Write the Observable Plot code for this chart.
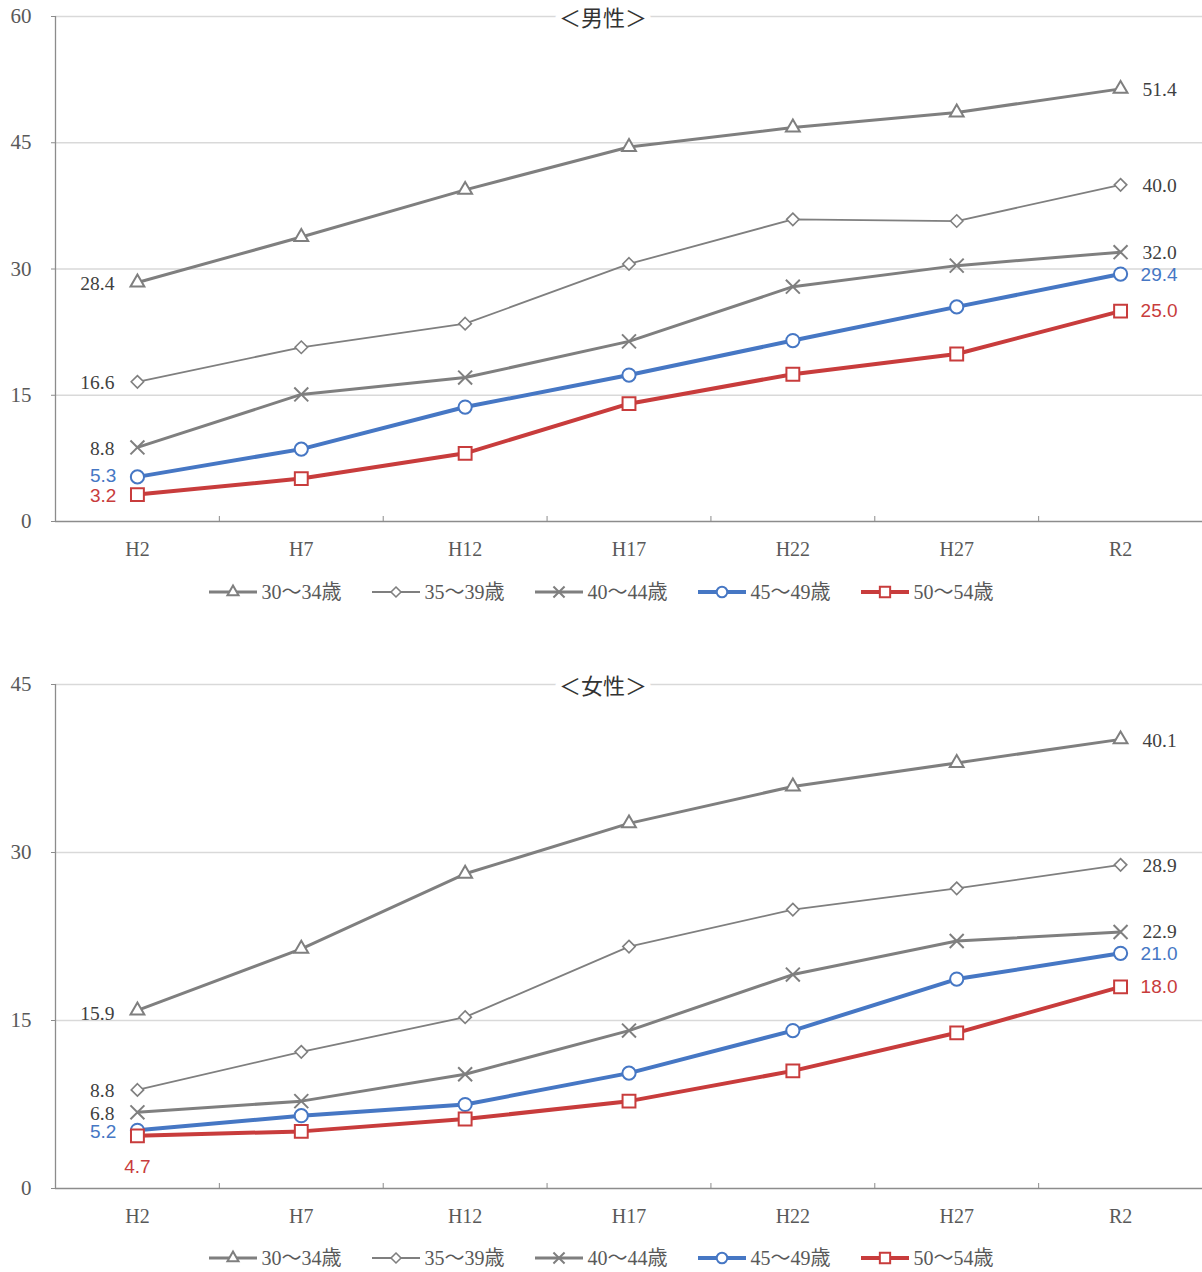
<!DOCTYPE html>
<html><head><meta charset="utf-8">
<script src="https://cdn.jsdelivr.net/npm/d3@7"></script>
<script src="https://cdn.jsdelivr.net/npm/@observablehq/plot@0.6"></script>
<style>
body{margin:0;background:#fff;width:1202px;overflow:hidden;}
.chart svg{display:block;}
.legend{display:flex;justify-content:center;gap:30px;font-family:"Liberation Serif","Noto Sans CJK JP",serif;font-size:20px;color:#595959;box-sizing:border-box;padding-left:0px;}
.item{display:flex;align-items:center;height:22px;}
.item span{margin-left:5px;line-height:22px;}
</style></head><body><div id="root"></div>
<script>
// ---- data ----
const years = ["H2","H7","H12","H17","H22","H27","R2"];
const ageGroups = ["30～34歳","35～39歳","40～44歳","45～49歳","50～54歳"];

const male30_34 = [28.4, 33.8, 39.4, 44.5, 46.8, 48.6, 51.4];
const male35_39 = [16.6, 20.7, 23.5, 30.6, 35.9, 35.7, 40.0];
const male40_44 = [8.8, 15.1, 17.1, 21.4, 27.9, 30.4, 32.0];
const male45_49 = [5.3, 8.6, 13.6, 17.4, 21.5, 25.5, 29.4];
const male50_54 = [3.2, 5.1, 8.1, 14.0, 17.5, 19.9, 25.0];

const female30_34 = [15.9, 21.4, 28.1, 32.6, 35.9, 38.0, 40.1];
const female35_39 = [8.8, 12.2, 15.3, 21.6, 24.9, 26.8, 28.9];
const female40_44 = [6.8, 7.8, 10.2, 14.1, 19.1, 22.1, 22.9];
const female45_49 = [5.2, 6.5, 7.5, 10.3, 14.1, 18.7, 21.0];
const female50_54 = [4.7, 5.1, 6.2, 7.8, 10.5, 13.9, 18.0];

const maleTicks = [0, 15, 30, 45, 60];
const femaleTicks = [0, 15, 30, 45];

// ---- styles ----
const GRAY = "#7f7f7f", BLUE = "#4677c4", RED = "#c83c3c";
const styles = [
  {color: GRAY, width: 3,   symbol: "triangle2", r: 6.6, mw: 2,   sans: false},
  {color: GRAY, width: 1.8, symbol: "diamond2",  r: 5.6, mw: 1.6, sans: false},
  {color: GRAY, width: 3,   symbol: "times",     r: 6.4, mw: 2,   sans: false},
  {color: BLUE, width: 4,   symbol: "circle",    r: 6.6, mw: 2,   sans: true},
  {color: RED,  width: 4,   symbol: "square2",   r: 8.2, mw: 2,   sans: true}
];
const SERIF = "'Liberation Serif', 'Noto Sans CJK JP', serif";
const SANS = "'Liberation Sans', Arial, sans-serif";
const AXIS = "#8c8c8c";

function makeChart({title, series, ticks, height, marginTop, marginBottom, leftOff, rightOff}) {
  const yMax = d3.max(ticks);
  const marks = [
    Plot.gridY(ticks.filter(t => t > 0), {stroke: "#d9d9d9", strokeOpacity: 1, strokeWidth: 1.3}),
    Plot.ruleY([0], {stroke: AXIS, strokeWidth: 1.3}),
    Plot.ruleX([-0.5], {stroke: AXIS, strokeWidth: 1.3}),
    Plot.axisY({ticks, tickSize: 4, tickPadding: 20, stroke: AXIS, fill: "#595959", fontSize: 21, fontFamily: SERIF}),
    Plot.axisX({ticks: d3.range(years.length), tickFormat: i => years[i], tickSize: 0, tickPadding: 20, fill: "#595959", fontSize: 20, fontFamily: SERIF}),
    Plot.axisX({ticks: d3.range(0.5, years.length - 1, 1), tickFormat: () => "", tickSize: -5, stroke: AXIS})
  ];
  series.forEach((vals, k) => {
    const s = styles[k];
    const data = vals.map((v, i) => ({i, v}));
    marks.push(Plot.line(data, {x: "i", y: "v", stroke: s.color, strokeWidth: s.width}));
  });
  series.forEach((vals, k) => {
    const s = styles[k];
    const data = vals.map((v, i) => ({i, v}));
    marks.push(Plot.dot(data, {x: "i", y: "v", symbol: s.symbol, r: s.r, stroke: s.color, fill: "white", strokeWidth: s.mw}));
  });
  series.forEach((vals, k) => {
    const s = styles[k];
    const last = vals.length - 1;
    const common = {
      fill: s.sans ? s.color : "#404040",
      fontFamily: s.sans ? SANS : SERIF,
      fontSize: s.sans ? 19 : 19.5
    };
    const lo = leftOff[k], ro = rightOff[k];
    marks.push(Plot.text([{i: 0, v: vals[0]}], {x: "i", y: "v", text: d => d.v.toFixed(1), textAnchor: lo.anchor, dx: lo.dx, dy: lo.dy, ...common}));
    marks.push(Plot.text([{i: last, v: vals[last]}], {x: "i", y: "v", text: d => d.v.toFixed(1), textAnchor: "start", dx: ro.dx, dy: ro.dy, ...common}));
  });
  marks.push(Plot.text([title], {frameAnchor: "top", dx: -26, dy: 2, fontSize: 22, fontFamily: "'Noto Sans CJK JP', sans-serif", fill: "#333", stroke: "white", strokeWidth: 12, paintOrder: "stroke", lineAnchor: "middle"}));

  return Plot.plot({
    width: 1202, height, marginLeft: 55, marginRight: 0, marginTop, marginBottom,
    x: {domain: [-0.5, years.length - 0.5], label: null},
    y: {domain: [0, yMax], label: null},
    style: {fontFamily: SERIF, background: "white", overflow: "visible"},
    marks
  });
}

function makeLegend() {
  const div = document.createElement("div");
  div.className = "legend";
  ageGroups.forEach((name, k) => {
    const s = styles[k];
    const item = document.createElement("div");
    item.className = "item";
    const svg = d3.create("svg").attr("width", 48).attr("height", 22);
    svg.append("line").attr("x1", 0).attr("x2", 48).attr("y1", 11).attr("y2", 11)
      .attr("stroke", s.color).attr("stroke-width", s.width);
    const symMap = {triangle2: d3.symbolTriangle2, diamond2: d3.symbolDiamond2, times: d3.symbolTimes, circle: d3.symbolCircle, square2: d3.symbolSquare2};
    const rr = s.r * 0.8;
    svg.append("path").attr("transform", "translate(24,11)")
      .attr("d", d3.symbol(symMap[s.symbol], rr * rr * Math.PI)())
      .attr("fill", "white").attr("stroke", s.color).attr("stroke-width", s.mw);
    item.appendChild(svg.node());
    const sp = document.createElement("span");
    sp.textContent = name;
    item.appendChild(sp);
    div.appendChild(item);
  });
  return div;
}

const root = document.getElementById("root");
const c1 = document.createElement("div"); c1.className = "chart";
c1.appendChild(makeChart({
  title: "＜男性＞",
  series: [male30_34, male35_39, male40_44, male45_49, male50_54],
  ticks: maleTicks, height: 565, marginTop: 16, marginBottom: 44,
  leftOff: [{anchor: "end", dx: -23, dy: 1}, {anchor: "end", dx: -23, dy: 1}, {anchor: "end", dx: -23, dy: 1}, {anchor: "end", dx: -21, dy: -1}, {anchor: "end", dx: -21, dy: 1}],
  rightOff: [{dx: 22, dy: 1}, {dx: 22, dy: 1}, {dx: 22, dy: 1}, {dx: 20, dy: 1}, {dx: 20, dy: 0}]
}));
root.appendChild(c1);
const l1 = makeLegend(); l1.style.height = "75px"; l1.style.paddingTop = "16px";
root.appendChild(l1);

const c2 = document.createElement("div"); c2.className = "chart";
c2.appendChild(makeChart({
  title: "＜女性＞",
  series: [female30_34, female35_39, female40_44, female45_49, female50_54],
  ticks: femaleTicks, height: 592, marginTop: 44, marginBottom: 44,
  leftOff: [{anchor: "end", dx: -23, dy: 3}, {anchor: "end", dx: -23, dy: 1}, {anchor: "end", dx: -23, dy: 1}, {anchor: "end", dx: -21, dy: 2}, {anchor: "middle", dx: 0, dy: 31}],
  rightOff: [{dx: 22, dy: 1}, {dx: 22, dy: 1}, {dx: 22, dy: 0}, {dx: 20, dy: 1}, {dx: 20, dy: 0}]
}));
root.appendChild(c2);
const l2 = makeLegend(); l2.style.height = "40px"; l2.style.paddingTop = "15px";
root.appendChild(l2);
</script>
</body></html>
